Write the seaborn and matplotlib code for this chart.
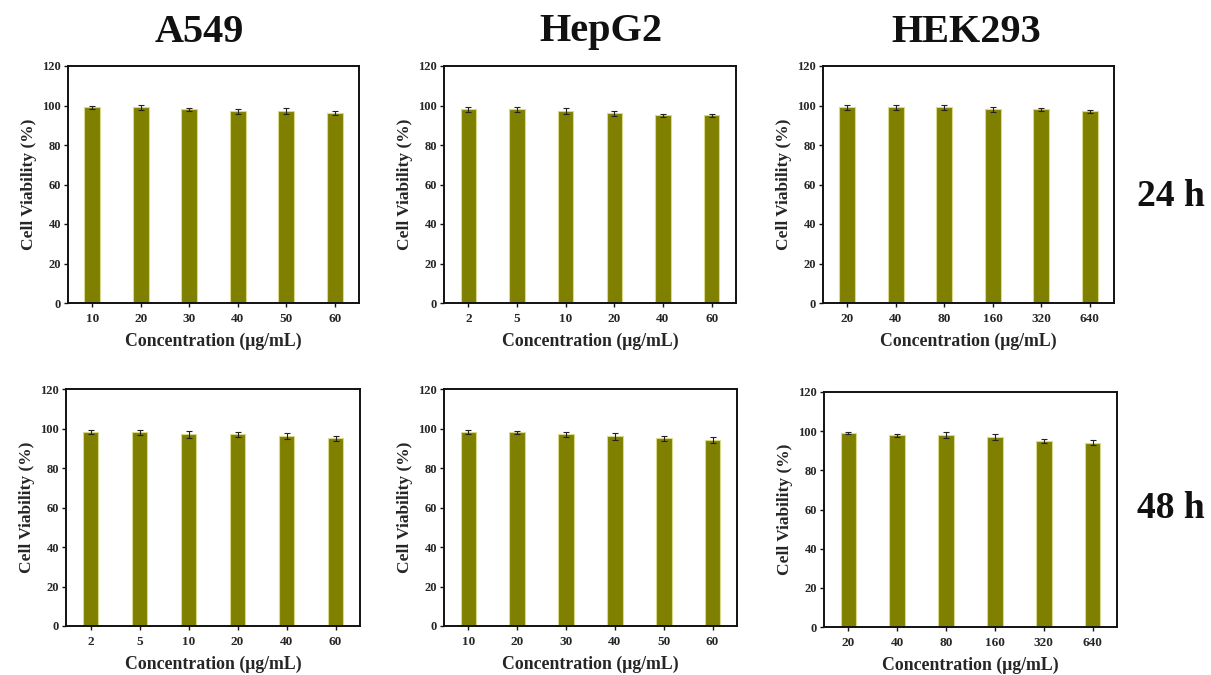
import matplotlib
matplotlib.use("Agg")
import matplotlib.pyplot as plt
import seaborn as sns
import pandas as pd

sns.set_theme(style="white")
plt.rcParams['font.family'] = ['Liberation Serif', 'DejaVu Serif']
plt.rcParams['font.weight'] = 'bold'

# ---- data ----
cells = ["A549", "HepG2", "HEK293"]
times = ["24 h", "48 h"]

conc_a549_24 = ["10", "20", "30", "40", "50", "60"]
via_a549_24 = [99, 99, 98, 97, 97, 96]
err_a549_24 = [1.0, 1.5, 0.7, 1.2, 1.5, 1.0]

conc_hepg2_24 = ["2", "5", "10", "20", "40", "60"]
via_hepg2_24 = [98, 98, 97, 96, 95, 95]
err_hepg2_24 = [1.2, 1.1, 1.5, 1.1, 0.8, 0.9]

conc_hek_24 = ["20", "40", "80", "160", "320", "640"]
via_hek_24 = [99, 99, 99, 98, 98, 97]
err_hek_24 = [1.2, 1.4, 1.3, 1.2, 0.9, 0.8]

conc_a549_48 = ["2", "5", "10", "20", "40", "60"]
via_a549_48 = [98, 98, 97, 97, 96, 95]
err_a549_48 = [1.0, 1.2, 1.8, 1.2, 1.5, 1.3]

conc_hepg2_48 = ["10", "20", "30", "40", "50", "60"]
via_hepg2_48 = [98, 98, 97, 96, 95, 94]
err_hepg2_48 = [1.0, 0.6, 1.2, 1.6, 1.4, 1.5]

conc_hek_48 = ["20", "40", "80", "160", "320", "640"]
via_hek_48 = [99, 98, 98, 97, 95, 94]
err_hek_48 = [0.7, 0.8, 1.4, 1.3, 1.0, 1.3]

panels = [
    (conc_a549_24, via_a549_24, err_a549_24),
    (conc_hepg2_24, via_hepg2_24, err_hepg2_24),
    (conc_hek_24, via_hek_24, err_hek_24),
    (conc_a549_48, via_a549_48, err_a549_48),
    (conc_hepg2_48, via_hepg2_48, err_hepg2_48),
    (conc_hek_48, via_hek_48, err_hek_48),
]

W, H = 1211, 675
fig = plt.figure(figsize=(W / 100, H / 100), dpi=100)
fig.patch.set_facecolor("white")

# axes boxes in pixels: (left, right, top, bottom)
boxes = [
    (68, 359, 66, 303), (444, 736, 66, 303), (823, 1114, 66, 303),
    (66, 360, 389, 626), (444, 737, 389, 626), (824, 1117, 392, 627),
]

bar_color = "#808000"
edge_color = "#d9d98c"

for (conc, via, err), (l, r, t, b) in zip(panels, boxes):
    ax = fig.add_axes([l / W, 1 - b / H, (r - l) / W, (b - t) / H])
    df = pd.DataFrame({"conc": conc, "via": via})
    sns.barplot(data=df, x="conc", y="via", order=conc, color=bar_color,
                width=0.32, edgecolor=edge_color, linewidth=0.8,
                saturation=1, errorbar=None, ax=ax)
    ax.errorbar(range(len(conc)), via, yerr=err, fmt="none", ecolor="#222222",
                elinewidth=0.8, capsize=2.2, capthick=0.8)
    ax.set_xlim(-0.5, len(conc) - 0.5)
    ax.set_ylim(0, 120)
    ax.set_yticks(range(0, 121, 20))
    for s in ax.spines.values():
        s.set_visible(True)
        s.set_color("#111111")
        s.set_linewidth(1.4)
    ax.tick_params(axis="both", direction="out", length=3, width=1.0,
                   color="#111111", bottom=True, left=True)
    ax.tick_params(axis="y", labelsize=9, pad=2)
    ax.tick_params(axis="x", labelsize=9.5, pad=4)
    for lab in ax.get_xticklabels() + ax.get_yticklabels():
        lab.set_fontweight("bold")
    ax.set_xlabel("Concentration (μg/mL)", fontsize=12.8, fontweight="bold", labelpad=6)
    ax.set_ylabel("Cell Viability (%)", fontsize=12.5, fontweight="bold", labelpad=4)
    ax.set_facecolor("white")

# column titles
for name, cx in zip(cells, [199, 601, 966]):
    fig.text(cx / W, 1 - 32 / H, name, ha="center", va="center",
             fontsize=29, fontweight="bold", color="#111111")

# row labels
for name, cy in zip(times, [196, 508]):
    fig.text(1171 / W, 1 - cy / H, name, ha="center", va="center",
             fontsize=27, fontweight="bold", color="#111111")

fig.savefig("out.png", dpi=100, facecolor="white")
